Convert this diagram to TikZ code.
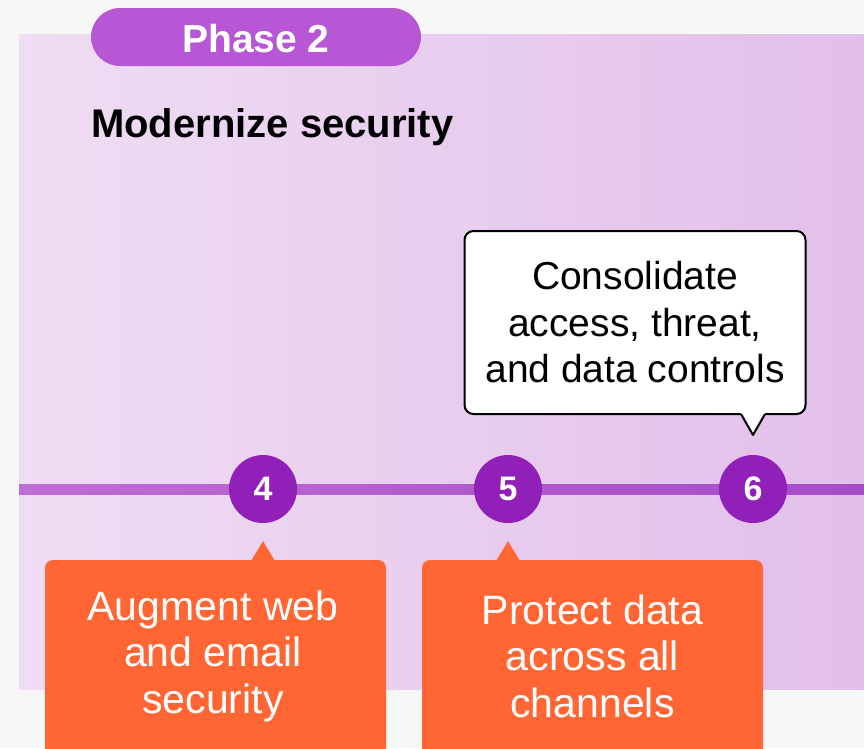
\documentclass[tikz,border=0pt]{standalone}
\usepackage{fontspec}
\setmainfont{Liberation Sans}
\begin{document}
\begin{tikzpicture}[x=1pt,y=-1pt,
  bodytext/.style={font=\fontsize{39}{46.5}\selectfont, align=center},
  boxtext/.style={font=\fontsize{41}{46.5}\selectfont, align=center, text=white},
  stepdot/.style={circle, fill=dotpurple, minimum size=68pt, inner sep=0pt,
    text=white, font=\fontsize{34}{34}\selectfont\bfseries},
  orangebox/.style={fill=boxorange, rounded corners=8pt},
]
\definecolor{pagebg}{HTML}{F7F7F7}
\definecolor{panelL}{HTML}{EFDDF3}
\definecolor{panelR}{HTML}{E2BFEA}
\definecolor{pillpurple}{HTML}{B857D6}
\definecolor{lineL}{HTML}{BE6DD4}
\definecolor{lineR}{HTML}{A64CC6}
\definecolor{dotpurple}{HTML}{9120B8}
\definecolor{boxorange}{HTML}{FF6633}

% page and clipping frame
\fill[pagebg] (0,0) rectangle (864,748);
\useasboundingbox (0,0) rectangle (864,748);
\clip (0,0) rectangle (864,748);

% phase panel
\shade[left color=panelL, right color=panelR] (19,34) rectangle (870,689);

% phase label
\fill[pillpurple, rounded corners=29pt] (91,8) rectangle (421,66);
\node[text=white, font=\fontsize{39}{39}\selectfont\bfseries] (phase) at (256,39) {Phase 2};
\node[anchor=base west, font=\fontsize{40}{40}\selectfont\bfseries, inner sep=0pt] (title) at (91,137) {Modernize security};

% timeline
\coordinate (tlstart) at (19,489);
\coordinate (tlend) at (864,489);
\shade[left color=lineL, right color=lineR] (19,484) rectangle (864,494);

\node[stepdot] (s4) at (263,489) {4};
\node[stepdot] (s5) at (508,489) {5};
\node[stepdot] (s6) at (753,489) {6};

% callout above step 6
\node[draw=black, line width=2pt, fill=white, rounded corners=9pt,
  minimum width=341pt, minimum height=183pt, bodytext, text=black,
  inner sep=0pt] (c6) at (635,322.5) {Consolidate\\access, threat,\\and data controls};
\coordinate (c6tip) at (753,435);
\fill[white] (740,412) -- (c6tip) -- (766,412) -- cycle;
\draw[line width=2pt, line join=round] (741,414) -- (c6tip) -- (765,414);

% callouts below steps 4 and 5
\fill[orangebox] (45,560) rectangle (386,770);
\fill[boxorange] (251,561) -- (263,541) -- (275,561) -- cycle;
\node[boxtext] (c4) at (213,656) {Augment web\\and email\\security};

\fill[orangebox] (422,560) rectangle (763,770);
\fill[boxorange] (496,561) -- (508,541) -- (520,561) -- cycle;
\node[boxtext] (c5) at (592.5,656) {Protect data\\across all\\channels};
\end{tikzpicture}
\end{document}
